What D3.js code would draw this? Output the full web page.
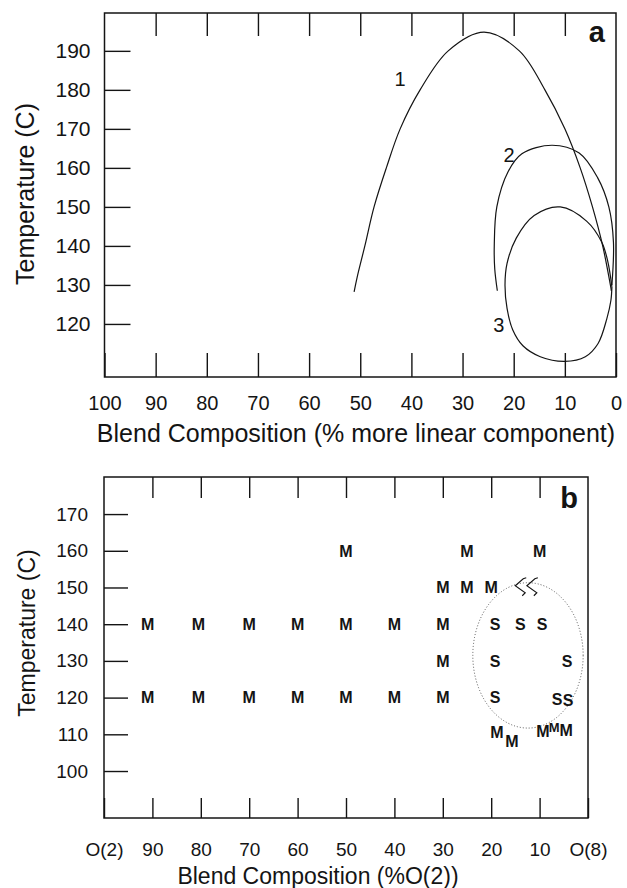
<!DOCTYPE html>
<html>
<head>
<meta charset="utf-8">
<script src="https://cdn.jsdelivr.net/npm/d3@7"></script>
<style>
body { margin: 0; background: #fff; }
text { font-family: "Liberation Sans", Arial, Helvetica, sans-serif; }
</style>
</head>
<body>
<div id="wrapper"></div>
<script>
// ---- panel a : curves, [composition %, temperature C]
const curve1 = [[51.2,128.2],[50.6,132],[49.1,140],[47.3,150],[44.9,160],[42.2,170],[38.3,180],[32.8,190],
    [25.8,194.8],[18.9,190],[13.9,180],[10.0,170],[7.0,160],[4.6,150],[2.6,140],[1.1,130],[0.9,128.5]];
const curve2 = [[23.2,128.5],[23.7,134],[23.8,140],[23.3,150],[21.1,159],[18.4,163.6],[12.5,165.8],
    [7.2,163.8],[3.6,157.5],[1.4,150],[0.5,141],[0.8,130]];
const curve3 = [[0.8,129.5],[1.6,136],[2.8,141],[5.7,146.3],[10.9,150],[16.0,147.8],[19.5,142],[21.3,135.5],
    [21.7,130],[21.3,124],[20.2,118.5],[18.2,114.4],[14.8,111.6],[10.0,110.4],[6.0,111.6],[3.5,115],
    [1.8,121.3],[1.0,126],[0.8,129.5]];
const curveLabels = [["1",42.2,182.9],["2",20.9,163.2],["3",22.9,119.8]];

const xTicksA = [100,90,80,70,60,50,40,30,20,10,0];
const yTicksA = [120,130,140,150,160,170,180,190];

// ---- panel b : morphology observed at each blend / temperature
const mPoints = [[50,160],[25,160],[10,160],
    [30,150],[25,150],[20,150],
    [91,140],[80.5,140],[70,140],[60,140],[50,140],[40,140],[30,140],
    [30,130],
    [91,120],[80.5,120],[70,120],[60,120],[50,120],[40,120],[30,120],
    [18.8,110.5],[15.7,108.1],[9.3,110.8],[4.5,111.1]];
const mSmallPoints = [[7.0,111.9]];
const sPoints = [[19.2,140],[14.0,140],[9.5,140],[19.2,130],[4.3,130],[19.2,120],[6.4,119.6],[4.1,119.4]];
const sHandPoints = [[14.0,150.2],[11.6,150.2]];
const ellipseB = {cx: 12.4, cy: 131.5, rx: 11.4, ry: 19.8};

const xTicksB = [100,90,80,70,60,50,40,30,20,10,0];
const xTickLabelsB = ["O(2)","90","80","70","60","50","40","30","20","10","O(8)"];
const yTicksB = [100,110,120,130,140,150,160,170];


function drawChart() {
    const svg = d3.select("#wrapper").append("svg")
        .attr("width", 627)
        .attr("height", 888);
    svg.append("rect").attr("width", 627).attr("height", 888).attr("fill", "white");

    const ink = "#141414";

    function styleAxis(g, size) {
        g.select(".domain").remove();
        g.attr("color", ink)
            .attr("font-size", size)
            .attr("font-family", "'Liberation Sans', Arial, sans-serif");
        g.selectAll("line").attr("stroke-width", 1.4);
    }

    //-----------panel a---------------------
    const boxA = {left: 104.5, right: 616, top: 13, bottom: 377};
    const xA = d3.scaleLinear().domain([100, 0]).range([boxA.left, boxA.right]);
    const yA = d3.scaleLinear().domain([106.4, 199.7]).range([boxA.bottom, boxA.top]);

    svg.append("g")
        .attr("transform", `translate(${boxA.left},0)`)
        .call(d3.axisLeft(yA).tickValues(yTicksA).tickSize(-26).tickPadding(14))
        .call(g => styleAxis(g, 21));

    svg.append("g")
        .attr("transform", `translate(0,${boxA.top})`)
        .call(d3.axisTop(xA).tickValues(xTicksA.slice(1, -1)).tickSize(-23).tickFormat(""))
        .call(g => styleAxis(g, 20));

    svg.append("g")
        .attr("transform", `translate(0,${boxA.bottom})`)
        .call(d3.axisBottom(xA).tickValues(xTicksA).tickSize(-24).tickPadding(19))
        .call(g => styleAxis(g, 20));

    svg.append("rect")
        .attr("x", boxA.left).attr("y", boxA.top)
        .attr("width", boxA.right - boxA.left).attr("height", boxA.bottom - boxA.top)
        .attr("fill", "none").attr("stroke", ink).attr("stroke-width", 1.5);

    const lineA = d3.line()
        .x(d => xA(d[0]))
        .y(d => yA(d[1]))
        .curve(d3.curveCatmullRom.alpha(0.5));

    svg.selectAll(".curveA")
        .data([curve1, curve2, curve3])
        .join("path")
        .attr("class", "curveA")
        .attr("d", lineA)
        .attr("fill", "none")
        .attr("stroke", ink)
        .attr("stroke-width", 1.2);

    svg.selectAll(".curveLabel")
        .data(curveLabels)
        .join("text")
        .attr("class", "curveLabel")
        .attr("x", d => xA(d[1]))
        .attr("y", d => yA(d[2]))
        .attr("dy", "0.35em")
        .attr("text-anchor", "middle")
        .attr("font-size", 20)
        .attr("fill", ink)
        .text(d => d[0]);

    svg.append("text")
        .attr("x", boxA.right - 11).attr("y", boxA.top + 29)
        .attr("text-anchor", "end")
        .attr("font-size", 29).attr("font-weight", "bold").attr("fill", ink)
        .text("a");

    svg.append("text")
        .attr("x", 356).attr("y", 442)
        .attr("text-anchor", "middle")
        .attr("font-size", 25).attr("fill", ink)
        .text("Blend Composition (% more linear component)");

    svg.append("text")
        .attr("transform", "translate(34,194) rotate(-90)")
        .attr("text-anchor", "middle")
        .attr("font-size", 25).attr("fill", ink)
        .text("Temperature (C)");

    //-----------panel b---------------------
    const boxB = {left: 104, right: 588, top: 477, bottom: 818};
    const xB = d3.scaleLinear().domain([100, 0]).range([boxB.left, boxB.right]);
    const yB = d3.scaleLinear().domain([87.2, 180.1]).range([boxB.bottom, boxB.top]);

    svg.append("g")
        .attr("transform", `translate(${boxB.left},0)`)
        .call(d3.axisLeft(yB).tickValues(yTicksB).tickSize(-24).tickPadding(16))
        .call(g => styleAxis(g, 19));

    svg.append("g")
        .attr("transform", `translate(0,${boxB.top})`)
        .call(d3.axisTop(xB).tickValues(xTicksB.slice(1, -1)).tickSize(-21).tickFormat(""))
        .call(g => styleAxis(g, 19));

    svg.append("g")
        .attr("transform", `translate(0,${boxB.bottom})`)
        .call(d3.axisBottom(xB).tickValues(xTicksB).tickSize(-20).tickPadding(25)
            .tickFormat((d, i) => xTickLabelsB[i]))
        .call(g => styleAxis(g, 19));

    svg.append("rect")
        .attr("x", boxB.left).attr("y", boxB.top)
        .attr("width", boxB.right - boxB.left).attr("height", boxB.bottom - boxB.top)
        .attr("fill", "none").attr("stroke", ink).attr("stroke-width", 1.5);

    // dotted region of the S phase
    svg.append("ellipse")
        .attr("cx", xB(ellipseB.cx))
        .attr("cy", yB(ellipseB.cy))
        .attr("rx", Math.abs(xB(ellipseB.cx + ellipseB.rx) - xB(ellipseB.cx)))
        .attr("ry", Math.abs(yB(ellipseB.cy + ellipseB.ry) - yB(ellipseB.cy)))
        .attr("fill", "none")
        .attr("stroke", "#555")
        .attr("stroke-width", 1)
        .attr("stroke-dasharray", "1 2");

    svg.selectAll(".mMark")
        .data(mPoints)
        .join("text")
        .attr("class", "mMark")
        .attr("x", d => xB(d[0]))
        .attr("y", d => yB(d[1]))
        .attr("dy", "0.36em")
        .attr("text-anchor", "middle")
        .attr("font-size", 16).attr("font-weight", "bold").attr("fill", ink)
        .text("M");

    svg.selectAll(".mSmall")
        .data(mSmallPoints)
        .join("text")
        .attr("class", "mSmall")
        .attr("x", d => xB(d[0]))
        .attr("y", d => yB(d[1]))
        .attr("dy", "0.36em")
        .attr("text-anchor", "middle")
        .attr("font-size", 13).attr("font-weight", "bold").attr("fill", ink)
        .text("M");

    svg.selectAll(".sMark")
        .data(sPoints)
        .join("text")
        .attr("class", "sMark")
        .attr("x", d => xB(d[0]))
        .attr("y", d => yB(d[1]))
        .attr("dy", "0.36em")
        .attr("text-anchor", "middle")
        .attr("font-size", 16).attr("font-weight", "bold").attr("fill", ink)
        .text("S");

    // hand drawn S marks
    svg.selectAll(".sHand")
        .data(sHandPoints)
        .join("path")
        .attr("class", "sHand")
        .attr("transform", d => `translate(${xB(d[0])},${yB(d[1])})`)
        .attr("d", "M6,-9 L3,-8 L-5,-1 L5,6 L2,9")
        .attr("fill", "none")
        .attr("stroke", ink)
        .attr("stroke-width", 1.1);

    svg.append("text")
        .attr("x", boxB.right - 10).attr("y", boxB.top + 31)
        .attr("text-anchor", "end")
        .attr("font-size", 29).attr("font-weight", "bold").attr("fill", ink)
        .text("b");

    svg.append("text")
        .attr("x", 318).attr("y", 884)
        .attr("text-anchor", "middle")
        .attr("font-size", 23).attr("fill", ink)
        .text("Blend Composition (%O(2))");

    svg.append("text")
        .attr("transform", "translate(35,633) rotate(-90)")
        .attr("text-anchor", "middle")
        .attr("font-size", 23).attr("fill", ink)
        .text("Temperature (C)");
}

drawChart();
</script>
</body>
</html>
